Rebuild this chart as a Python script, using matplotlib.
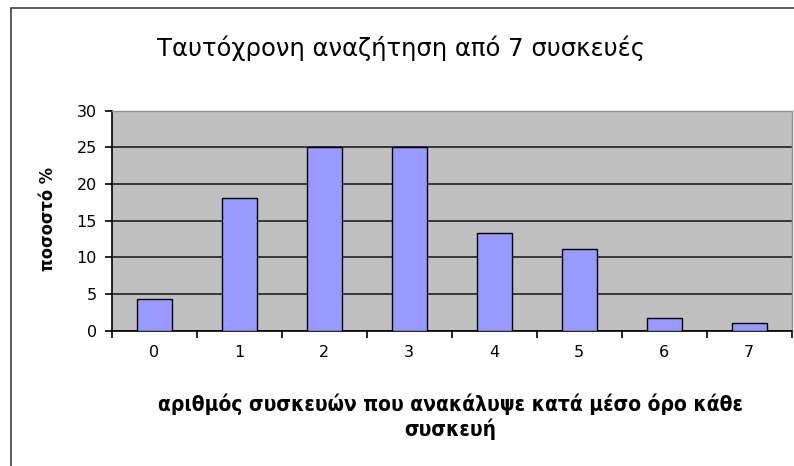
import matplotlib.pyplot as plt
from matplotlib.patches import Rectangle

categories = ['0', '1', '2', '3', '4', '5', '6', '7']
values = [4.3, 18.1, 25.0, 25.0, 13.4, 11.1, 1.75, 1.1]

title = "Ταυτόχρονη αναζήτηση από 7 συσκευές"
ylabel = "ποσοστό %"
xlabel = "αριθμός συσκευών που ανακάλυψε κατά μέσο όρο κάθε\nσυσκευή"

plt.rcParams['font.family'] = ['DejaVu Sans']

fig = plt.figure(figsize=(7.94, 4.66), dpi=100)
# outer frame (only left and top visible in the reference)
fig.patches.append(Rectangle((11 / 794, -0.1), 1.2, 1.1 - 8 / 466,
                             transform=fig.transFigure, fill=False,
                             edgecolor='#404040', linewidth=1.2))

ax = fig.add_axes([0.141, 0.29, 0.856, 0.4725])
ax.set_facecolor('#c0c0c0')

x = range(len(categories))
ax.bar(x, values, width=0.41, color='#9999ff', edgecolor='black',
       linewidth=1.0, zorder=3)

ax.set_ylim(0, 30)
ax.set_yticks(range(0, 31, 5))
ax.yaxis.grid(True, color='#202020', linewidth=1.2, zorder=1)
ax.set_axisbelow(True)

ax.set_xlim(-0.5, len(categories) - 0.5)
ax.set_xticks(list(x))
ax.set_xticklabels(categories)
ax.set_xticks([i - 0.5 for i in range(len(categories) + 1)], minor=True)
ax.tick_params(axis='x', which='major', length=0, pad=10, labelsize=11.5)
ax.tick_params(axis='x', which='minor', length=5, width=1.2, direction='out')
ax.tick_params(axis='y', length=5, width=1.2, direction='out', labelsize=11.5,
               pad=6)

for s in ['top', 'right']:
    ax.spines[s].set_color('#909090')
    ax.spines[s].set_linewidth(1.0)
for s in ['left', 'bottom']:
    ax.spines[s].set_color('black')
    ax.spines[s].set_linewidth(1.2)

fig.text(0.505, 0.897, title, ha='center', va='center', fontsize=17.5)
fig.text(0.061, 0.531, ylabel, ha='center', va='center', rotation=90,
         fontsize=13, fontweight='bold', fontstretch='condensed')
fig.text(0.567, 0.105, xlabel, ha='center', va='center', fontsize=15,
         fontweight='bold', fontstretch='condensed', linespacing=1.2)

fig.savefig('out.png', dpi=100)
